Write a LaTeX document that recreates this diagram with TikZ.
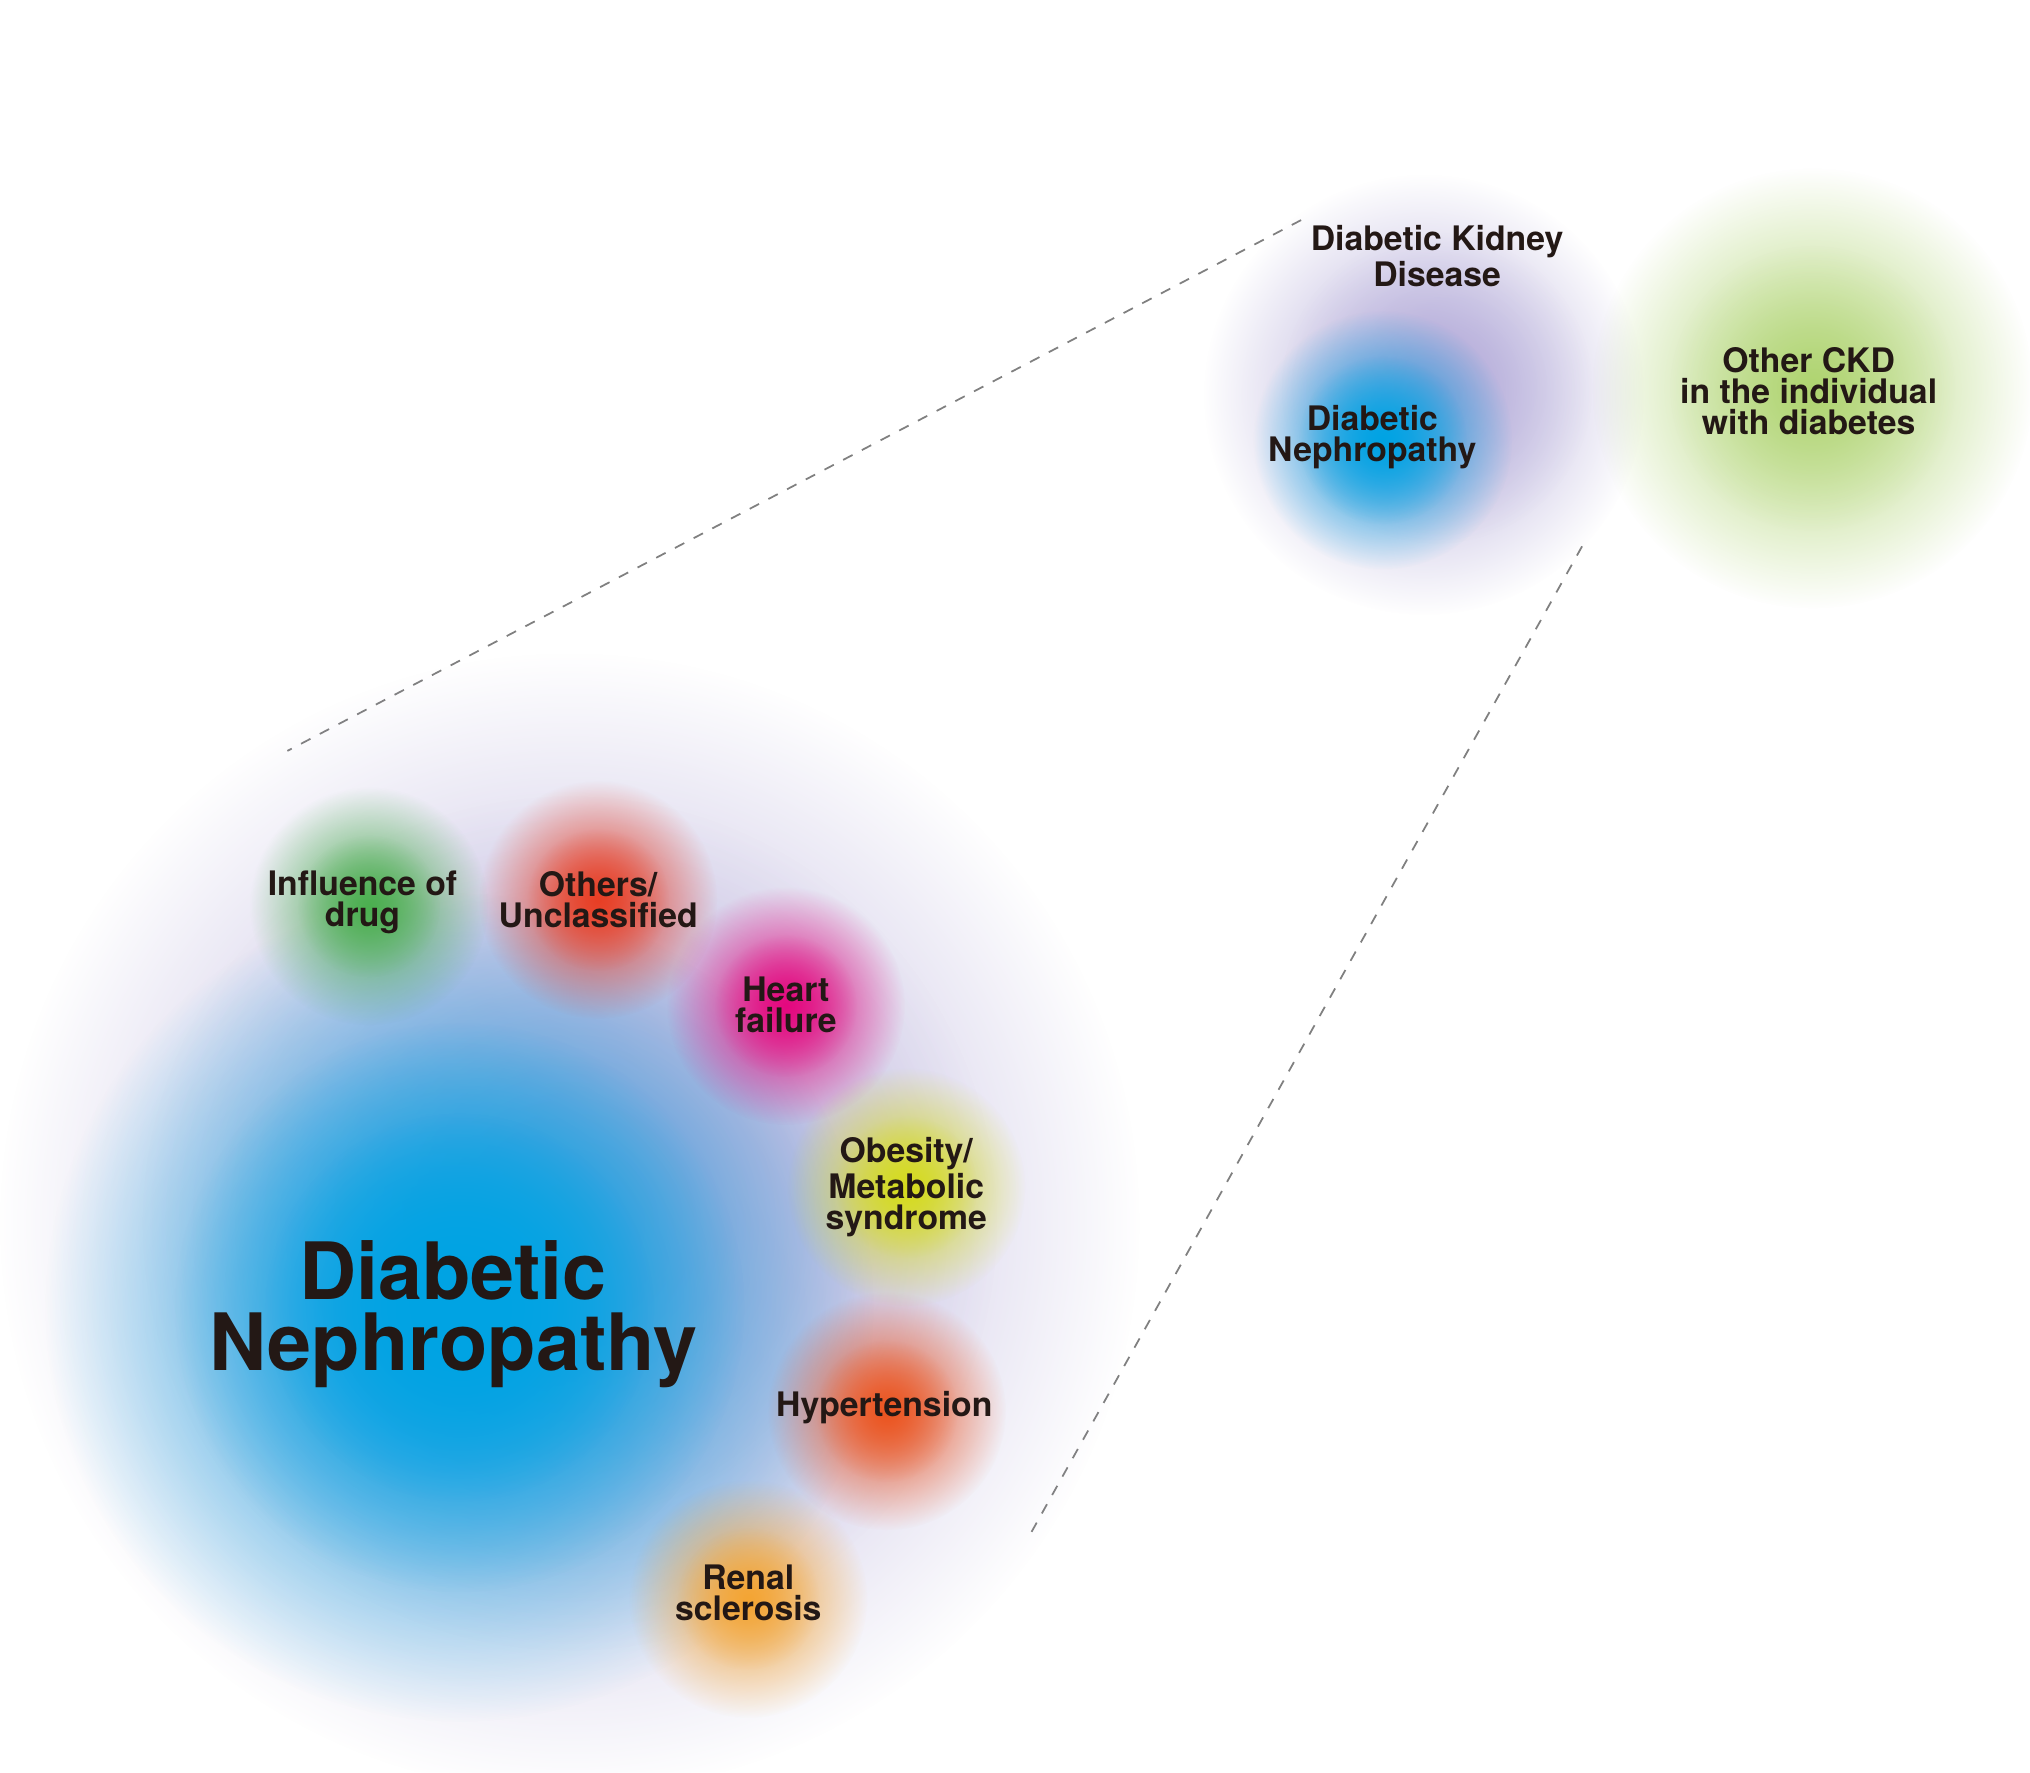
\documentclass[tikz,border=0pt]{standalone}
\usepackage{fontspec}
\setmainfont{TeX Gyre Heros}
\usetikzlibrary{fadings}

\tikzfading[name=fuzzy, inner color=transparent!0, outer color=transparent!100]
\definecolor{ink}{HTML}{231815}
\definecolor{ckdpurple}{HTML}{ADA4D6}
\definecolor{dnblue}{HTML}{00A3E4}
\definecolor{druggreen}{HTML}{4CAF50}
\definecolor{otherred}{HTML}{E83F25}
\definecolor{heartpink}{HTML}{E4087F}
\definecolor{obesyellow}{HTML}{D5DB1E}
\definecolor{hyperorange}{HTML}{EC5520}
\definecolor{renalorange}{HTML}{F4A534}
\definecolor{ckdgreen}{HTML}{AFD470}

\tikzset{
    blob/.style={fill=#1, path fading=fuzzy},
    label/.style={font=\bfseries\fontsize{9.6pt}{8.8pt}\selectfont, text=ink, align=center},
    biglabel/.style={font=\bfseries\fontsize{22.5pt}{20pt}\selectfont, text=ink, align=center},
    zoomline/.style={draw=gray, dashed, line width=0.5pt}
}

\begin{document}
\begin{tikzpicture}[x=0.012946cm, y=-0.012946cm]
        % Background
        \useasboundingbox[fill=white] (0,0) rectangle (1568,1369);

        % Zoom lines
        \coordinate (zt1) at (1005,170);
        \coordinate (zb1) at (222,580);
        \coordinate (zt2) at (1222,422);
        \coordinate (zb2) at (793,1190);
        \draw[zoomline] (zt1) -- (zb1);
        \draw[zoomline] (zt2) -- (zb2);

        % Top circles
        \fill[blob=ckdpurple] (1100,305) circle(170);
        \fill[blob=ckdpurple, opacity=0.6] (1110,300) circle(120);
        \fill[blob=dnblue] (1068,340) circle(100);
        \fill[blob=dnblue, opacity=0.8] (1068,340) circle(65);
        \fill[blob=ckdgreen] (1400,300) circle(170);
        \fill[blob=ckdgreen, opacity=0.5] (1400,300) circle(110);

        % Big circles
        \fill[blob=ckdpurple] (440,945) circle(440);
        \fill[blob=ckdpurple, opacity=0.6] (440,945) circle(330);
        \fill[blob=dnblue] (355,1010) circle(320);
        \fill[blob=dnblue] (355,1010) circle(220);
        \fill[blob=dnblue] (355,1010) circle(150);

        % Small circles
        \foreach \cx/\cy/\col in {285/700/druggreen, 462/695/otherred, 607/777/heartpink,
                                  700/917/obesyellow, 685/1090/hyperorange, 578/1235/renalorange} {
            \fill[blob=\col] (\cx,\cy) circle(92);
            \fill[blob=\col, opacity=0.7] (\cx,\cy) circle(55);
        }

        % Labels
        \node[label] (dkd) at (1110,198) {Diabetic Kidney\\Disease};
        \node[label] (dnsmall) at (1060,338) {Diabetic\\Nephropathy};
        \node[label] (other) at (1397,302) {Other CKD\\in the individual\\with diabetes};
        \node[biglabel] (dnbig) at (350,1015) {Diabetic\\Nephropathy};
        \node[label] (drug) at (280,697) {Influence of\\drug};
        \node[label] (others) at (462,695) {Others/\\Unclassified};
        \node[label] (heart) at (607,776) {Heart\\failure};
        \node[label] (obesity) at (700,917) {Obesity/\\Metabolic\\syndrome};
        \node[label] (hyper) at (683,1087) {Hypertension};
        \node[label] (renal) at (578,1230) {Renal\\sclerosis};
\end{tikzpicture}
\end{document}
